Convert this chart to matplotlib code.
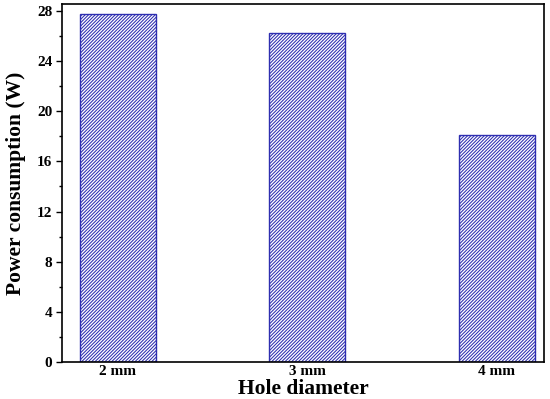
import matplotlib
matplotlib.use("Agg")
import matplotlib.pyplot as plt
from matplotlib.ticker import MultipleLocator

categories = ["2 mm", "3 mm", "4 mm"]
power = [27.75, 26.25, 18.1]

plt.rcParams['font.family'] = ['Liberation Serif', 'DejaVu Serif']
plt.rcParams['hatch.linewidth'] = 0.75
plt.rcParams['hatch.color'] = '#7878b8'

fig = plt.figure(figsize=(5.5, 3.99), dpi=100)
ax = fig.add_axes([62/550, 1-362/399, (544-62)/550, (362-4)/399])

x = list(range(len(categories)))
ax.bar(x, power, width=0.4, facecolor='white', edgecolor='#2e2eb0', hatch='//////////', linewidth=1.0)

ax.set_xlim(-0.295, 2.25)
ax.set_ylim(0, 28.55)
ax.set_xticks(x)
ax.set_xticklabels(categories, fontweight='bold', fontsize=11)
ax.tick_params(axis='x', length=0, pad=2)
ax.yaxis.set_major_locator(MultipleLocator(4))
ax.yaxis.set_minor_locator(MultipleLocator(2))
ax.tick_params(axis='y', which='major', direction='out', length=4, width=1, labelsize=11, pad=3)
ax.tick_params(axis='y', which='minor', direction='out', length=2.5, width=1)
for lbl in ax.get_yticklabels():
    lbl.set_fontweight('bold')
for s in ax.spines.values():
    s.set_linewidth(1.2)

ax.set_ylabel("Power consumption (W)", fontweight='bold', fontsize=15.5, labelpad=8)
ax.set_xlabel("Hole diameter", fontweight='bold', fontsize=15.5, labelpad=1)

fig.savefig("out.png", dpi=100)
